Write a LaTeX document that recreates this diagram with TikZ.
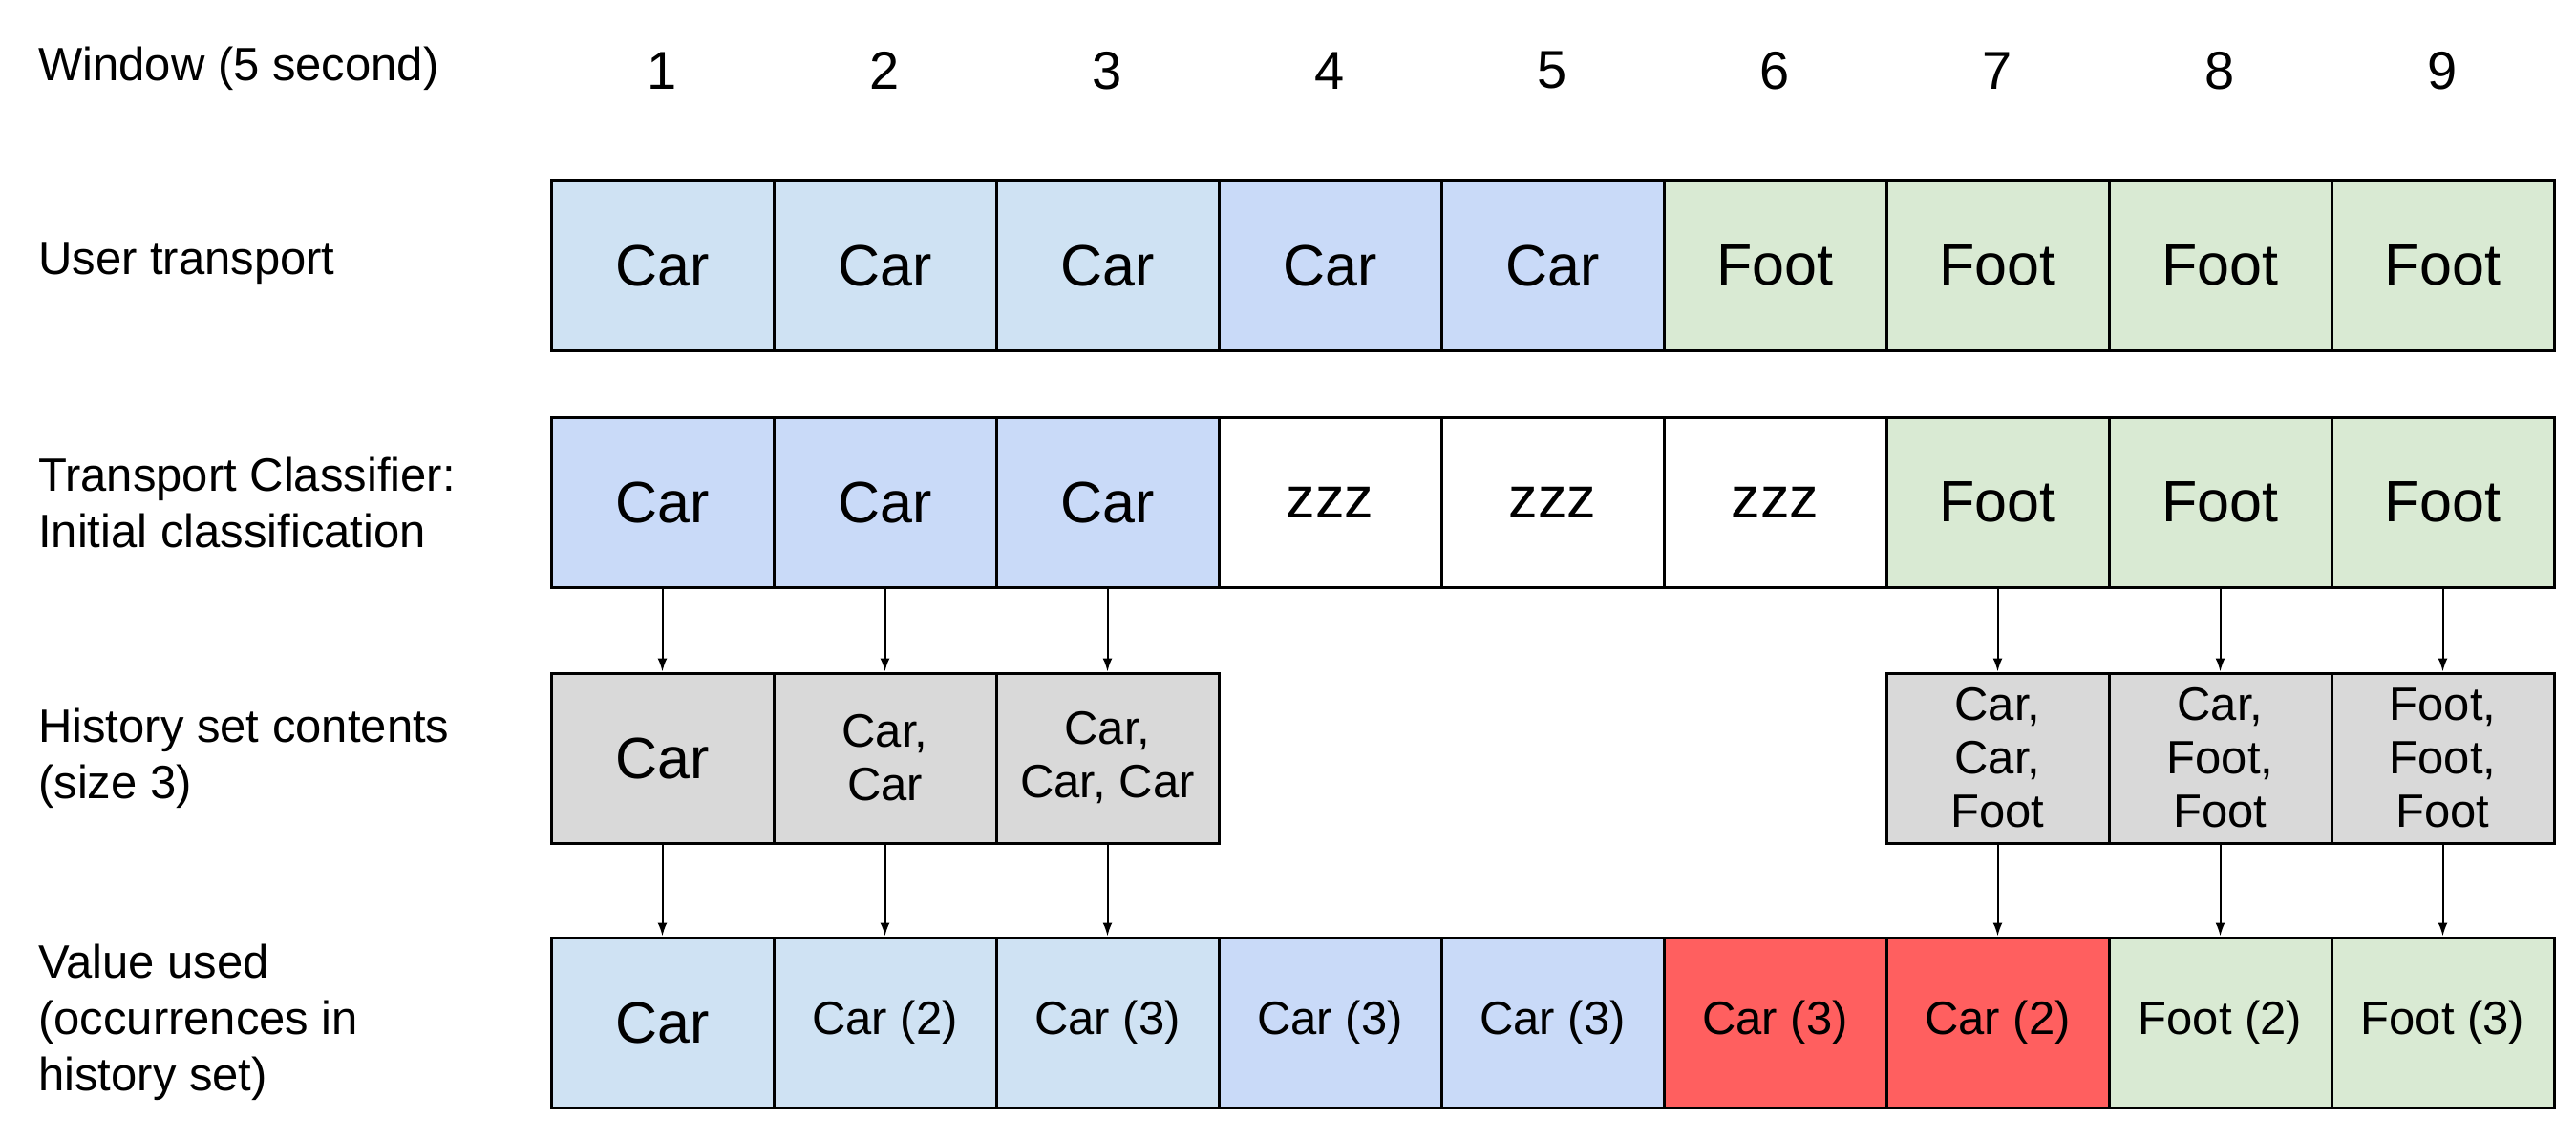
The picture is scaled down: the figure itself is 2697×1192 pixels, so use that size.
\documentclass[tikz,border=0pt]{standalone}
\usepackage{fontspec}
\setmainfont{Liberation Sans}
\definecolor{carlight}{HTML}{CFE2F3}
\definecolor{carblue}{HTML}{C9DAF8}
\definecolor{footgreen}{HTML}{D9EAD3}
\definecolor{histgray}{HTML}{D9D9D9}
\definecolor{wrongred}{HTML}{FF5F5F}
\tikzset{
  cell/.style={draw=black,line width=3pt,minimum width=233pt,minimum height=178pt,
    inner sep=0pt,align=center,font=\fontsize{61}{72}\selectfont},
  small/.style={font=\fontsize{49}{56}\selectfont},
  rowlabel/.style={anchor=west,align=left,inner sep=0pt,font=\fontsize{49}{59}\selectfont},
  flow/.style={-{Latex[length=14pt,width=10pt]},line width=2pt},
}
\usetikzlibrary{arrows.meta}
\begin{document}
\begin{tikzpicture}[x=1pt,y=-1pt]
  \useasboundingbox (0,0) rectangle (2697,1192);
  % row labels
  \node[rowlabel] (lwin) at (40,72) {Window (5 second)};
  \node[rowlabel] (luser) at (40,276) {User transport};
  \node[rowlabel] (lcls) at (40,526) {Transport Classifier:\\Initial classification};
  \node[rowlabel] (lhist) at (40,794) {History set contents\\(size 3)};
  \node[rowlabel] (lval) at (40,1071) {Value used\\(occurrences in\\history set)};
  % window numbers
  \foreach \i in {1,...,9}
    \node[font=\fontsize{56}{66}\selectfont] (n\i) at ({693.5+233*(\i-1)},74) {\i};
  % User transport
  \foreach \i/\c/\t in {1/carlight/Car,2/carlight/Car,3/carlight/Car,4/carblue/Car,5/carblue/Car,
      6/footgreen/Foot,7/footgreen/Foot,8/footgreen/Foot,9/footgreen/Foot}
    \node[cell,fill=\c] (u\i) at ({693.5+233*(\i-1)},278) {\t};
  % Transport classifier
  \foreach \i/\c/\t in {1/carblue/Car,2/carblue/Car,3/carblue/Car,4/white/zzz,5/white/zzz,
      6/white/zzz,7/footgreen/Foot,8/footgreen/Foot,9/footgreen/Foot}
    \node[cell,fill=\c] (c\i) at ({693.5+233*(\i-1)},526) {\t};
  % History set
  \node[cell,fill=histgray] (h1) at (693.5,794) {Car};
  \node[cell,small,fill=histgray] (h2) at (926.5,794) {Car,\\Car};
  \node[cell,small,fill=histgray] (h3) at (1159.5,794) {Car,\\Car, Car};
  \node[cell,small,fill=histgray] (h7) at (2091.5,794) {Car,\\Car,\\Foot};
  \node[cell,small,fill=histgray] (h8) at (2324.5,794) {Car,\\Foot,\\Foot};
  \node[cell,small,fill=histgray] (h9) at (2557.5,794) {Foot,\\Foot,\\Foot};
  % Value used
  \node[cell,fill=carlight] (v1) at (693.5,1071) {Car};
  \foreach \i/\c/\t in {2/carlight/Car (2),3/carlight/Car (3),4/carblue/Car (3),5/carblue/Car (3),
      6/wrongred/Car (3),7/wrongred/Car (2),8/footgreen/Foot (2),9/footgreen/Foot (3)}
    \node[cell,small,fill=\c] (v\i) at ({693.5+233*(\i-1)},1071) {\t};
  % arrows
  \foreach \i in {1,2,3,7,8,9} {
    \draw[flow] (c\i.south) -- (h\i.north);
    \draw[flow] (h\i.south) -- (v\i.north);
  }
\end{tikzpicture}
\end{document}
